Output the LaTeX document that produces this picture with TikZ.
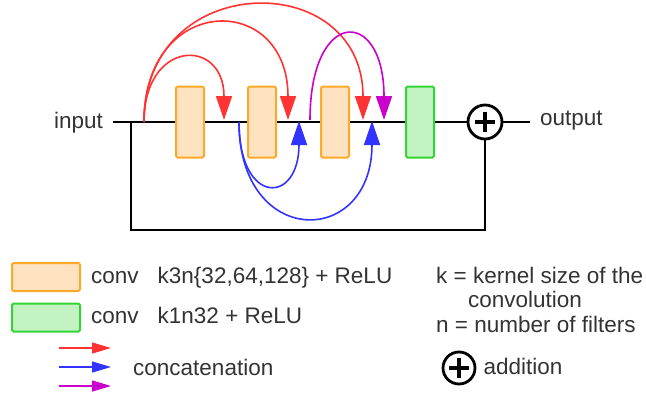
\documentclass[tikz,border=0pt]{standalone}
\usepackage{fontspec}
\setmainfont{Liberation Sans}
\usepackage{xcolor}
\usetikzlibrary{calc,positioning,arrows.meta}
\definecolor{convfill}{HTML}{FFE2BF}
\definecolor{convline}{HTML}{FFA928}
\definecolor{onefill}{HTML}{C3F2C3}
\definecolor{oneline}{HTML}{33D433}
\definecolor{catred}{HTML}{FF3333}
\definecolor{catblue}{HTML}{3333FF}
\definecolor{catmag}{HTML}{CC00CC}
\definecolor{textgray}{HTML}{333333}

\begin{document}
\begin{tikzpicture}[x=1pt, y=-1pt, >={Triangle[length=24pt,width=16pt]},
        every node/.style={text=textgray, font=\fontsize{22.5}{24.5}\selectfont, inner sep=0pt},
        conv/.style={draw=convline, fill=convfill, line width=2pt, rounded corners=1.5pt, minimum width=28pt, minimum height=71pt},
        convone/.style={conv, draw=oneline, fill=onefill},
        wire/.style={line width=2.7pt},
        cat/.style={line width=1.6pt, ->},
        legcat/.style={line width=1.2pt, -{Triangle[length=19pt,width=11pt]}},
        addnode/.style={circle, draw=black, line width=2.8pt, minimum size=#1,
            path picture={\draw[line width=4pt]
                ($(path picture bounding box.west)!0.2!(path picture bounding box.east)$) --
                ($(path picture bounding box.west)!0.8!(path picture bounding box.east)$)
                ($(path picture bounding box.north)!0.2!(path picture bounding box.south)$) --
                ($(path picture bounding box.north)!0.8!(path picture bounding box.south)$);}}]
        \useasboundingbox (0,0) rectangle (646,394);

        % Main path
        \coordinate (a0) at (113,122);
        \coordinate (split) at (131,122);
        \coordinate (low) at (131,230);
        \coordinate (a9) at (530,122);
        \node[conv] (c1) at (190,122) {};
        \node[conv] (c2) at (262,122) {};
        \node[conv] (c3) at (335,122) {};
        \node[convone] (c4) at (420,122) {};
        \node[addnode=34pt] (sum) at (485,122) {};
        \node[anchor=base east] (in) at (103,128) {input};
        \node[anchor=base west] (out) at (540,125) {output};

        \draw[wire] (a0) -- (c1) -- (c2) -- (c3) -- (c4) -- (sum) -- (a9);
        \draw[wire] (split) -- (low) -| (sum);

        % Dense connections
        \coordinate (r0) at (144,122);
        \coordinate (r1) at (224,120);
        \coordinate (r2) at (288,120);
        \coordinate (r3) at (363,120);
        \coordinate (m0) at (310,120);
        \coordinate (m1) at (384,120);
        \coordinate (u0) at (239,122);
        \coordinate (u1) at (299,121);
        \coordinate (u2) at (372,121);

        \draw[cat, catred] (r0) .. controls +(0,-83) and +(0,-83) .. (r1);
        \draw[cat, catred] (r0) .. controls +(0,-129) and +(0,-129) .. (r2);
        \draw[cat, catred] (r0) .. controls +(0,-153) and +(0,-153) .. (r3);
        \draw[cat, catmag] (m0) .. controls +(0,-113) and +(0,-113) .. (m1);
        \draw[cat, catblue] (u0) .. controls +(0,84) and +(0,84) .. (u1);
        \draw[cat, catblue] (u0) .. controls +(0,127) and +(0,127) .. (u2);

        % Legend
        \node[conv, minimum width=68pt, minimum height=28pt] (k3box) at (46,277) {};
        \node[convone, minimum width=68pt, minimum height=28pt] (k1box) at (46,317.5) {};
        \node[anchor=base west] (k3txt) at (91,283.3) {conv\hspace{19pt}k3n\{32,64,128\} + ReLU};
        \node[anchor=base west] (k1txt) at (91,323) {conv\hspace{19pt}k1n32 + ReLU};
        \node[anchor=base west, align=left] (keys) at (436,332.3)
            {k = kernel size of the\\\hspace*{32pt}convolution\\n = number of filters};

        \coordinate (lr0) at (59,348);
        \coordinate (lr1) at (111,348);
        \coordinate (lb0) at (59,367);
        \coordinate (lb1) at (111,367);
        \coordinate (lm0) at (59,386);
        \coordinate (lm1) at (111,386);
        \draw[legcat, catred] (lr0) -- (lr1);
        \draw[legcat, catblue] (lb0) -- (lb1);
        \draw[legcat, catmag] (lm0) -- (lm1);
        \node[anchor=base west] (cattxt) at (133,375) {concatenation};

        \node[addnode=32pt] (addleg) at (459,368) {};
        \node[anchor=base west] (addtxt) at (483.5,374) {addition};
\end{tikzpicture}
\end{document}
